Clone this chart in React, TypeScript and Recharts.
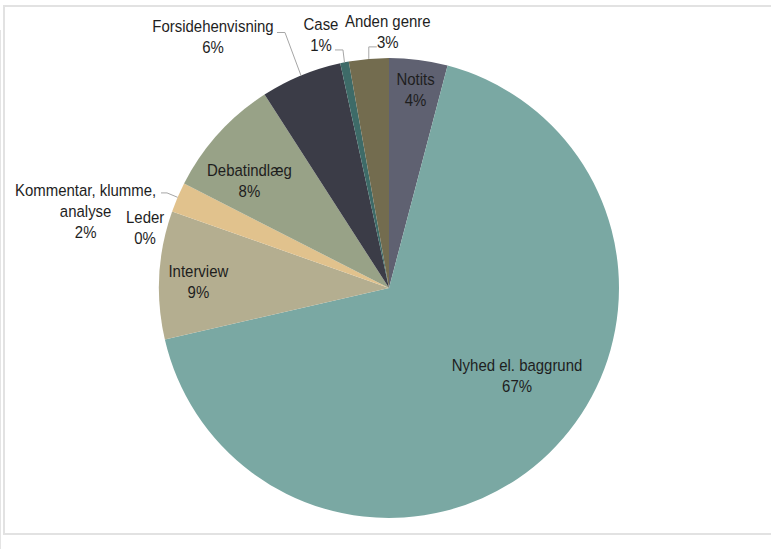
import React from "react";
import { PieChart, Pie, Cell } from "recharts";

const CATEGORIES = [
  "Notits",
  "Nyhed el. baggrund",
  "Interview",
  "Leder",
  "Kommentar, klumme, analyse",
  "Debatindlæg",
  "Forsidehenvisning",
  "Case",
  "Anden genre",
];
const SHARES = [4.1, 67.3, 9.0, 0, 2.1, 8.4, 5.7, 0.6, 2.8];
const COLORS = [
  "#5f6171",
  "#7aa8a3",
  "#b4ae90",
  "#c9a77c",
  "#e1c28d",
  "#98a287",
  "#3b3c47",
  "#3e6b68",
  "#736c4f",
];

const data = CATEGORIES.map((name, i) => ({ name, value: SHARES[i] }));

type Layout = { dx: number; dy: number; lines?: string[]; leader?: [number, number, number, number] };
const LAYOUT: Record<string, Layout> = {
  Notits: { dx: -3, dy: 29 },
  "Nyhed el. baggrund": { dx: -32, dy: -78 },
  Interview: { dx: 39, dy: 6 },
  Leder: { dx: -27, dy: 16 },
  "Kommentar, klumme, analyse": {
    dx: -92,
    dy: 13,
    lines: ["Kommentar, klumme,", "analyse"],
    leader: [-10.6, -4.4, -16.6, -4.4],
  },
  "Debatindlæg": { dx: 31, dy: 46 },
  Forsidehenvisning: { dx: -88, dy: -39, leader: [-16, -43, -24, -43] },
  Case: { dx: -23.5, dy: -28.5, leader: [-1.5, -12.4, -9.5, -12.4] },
  "Anden genre": { dx: 19, dy: -28, leader: [0, -12, 8, -12] },
};

const RAD = Math.PI / 180;
const FONT = "'Liberation Sans', Arial, sans-serif";
const LINE_H = 21;
const SX = 0.88;

const renderLabel = (props: any) => {
  const { cx, cy, midAngle, outerRadius, name, value } = props;
  const lay = LAYOUT[name];
  if (!lay) return null;
  const ex = cx + outerRadius * Math.cos(-midAngle * RAD);
  const ey = cy + outerRadius * Math.sin(-midAngle * RAD);
  const lines = [...(lay.lines || [name]), `${Math.round(value)}%`];
  const tx = ex + lay.dx;
  const ty = ey + lay.dy;
  const top = -((lines.length - 1) * LINE_H) / 2;
  return (
    <g key={`lbl-${name}`}>
      {lay.leader && (
        <polyline
          points={`${ex},${ey} ${ex + lay.leader[0]},${ey + lay.leader[1]} ${ex + lay.leader[2]},${ey + lay.leader[3]}`}
          fill="none"
          stroke="#a6a6a6"
          strokeWidth={1}
        />
      )}
      <g transform={`translate(${tx},${ty}) scale(${SX},1)`}>
        <text
          x={0}
          y={top}
          textAnchor="middle"
          dominantBaseline="central"
          fill="#1e1e1e"
          fontFamily={FONT}
          fontSize={17}
        >
          {lines.map((l, i) => (
            <tspan key={i} x={0} y={top + i * LINE_H}>
              {l}
            </tspan>
          ))}
        </text>
      </g>
    </g>
  );
};

export default function App() {
  return (
    <div style={{ position: "absolute", left: 0, top: 0, width: 771, height: 549, overflow: "hidden", background: "#fff" }}>
      <div style={{ position: "absolute", left: 0, top: 30, width: 1, height: 519, background: "#e4e4e4" }} />
      <div
        style={{
          position: "absolute",
          left: 3,
          top: 5,
          width: 800,
          height: 530,
          border: "2px solid #e2e2e2",
          boxSizing: "border-box",
        }}
      />
      <div style={{ position: "absolute", left: 0, top: 0 }}>
        <PieChart width={771} height={549} margin={{ top: 0, right: 0, bottom: 0, left: 0 }}>
          <Pie
            data={data}
            dataKey="value"
            nameKey="name"
            cx={389}
            cy={288}
            outerRadius={230}
            startAngle={90}
            endAngle={-270}
            stroke="none"
            isAnimationActive={false}
            label={renderLabel}
            labelLine={false}
          >
            {data.map((d, i) => (
              <Cell key={d.name} fill={COLORS[i]} />
            ))}
          </Pie>
        </PieChart>
      </div>
    </div>
  );
}
